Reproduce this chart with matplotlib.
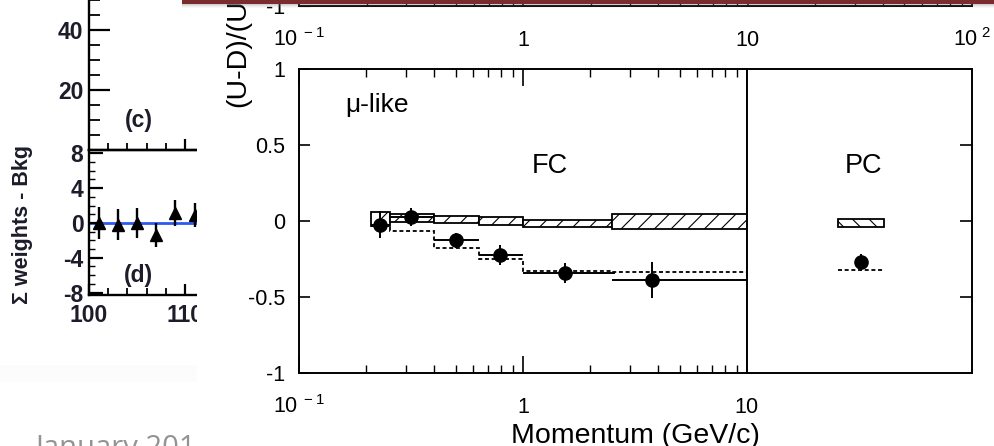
import matplotlib
matplotlib.use('Agg')
import matplotlib.pyplot as plt
from matplotlib.patches import Rectangle
from matplotlib.ticker import LogLocator, NullFormatter, MultipleLocator

plt.rcParams['font.family'] = ['Liberation Sans', 'DejaVu Sans']
plt.rcParams['mathtext.fontset'] = 'custom'
plt.rcParams['mathtext.rm'] = 'Liberation Sans'
plt.rcParams['mathtext.it'] = 'Liberation Sans:italic'
plt.rcParams['mathtext.bf'] = 'Liberation Sans:bold'
plt.rcParams['hatch.linewidth'] = 0.8

# ---------------- data: FC mu-like panel ----------------
fc_edges = [0.21, 0.255, 0.40, 0.635, 1.0, 2.5, 10.0]
mc_hi = [0.061, 0.044, 0.035, 0.028, 0.007, 0.044]
mc_lo = [-0.031, -0.009, -0.015, -0.024, -0.037, -0.055]
osc_fc = [-0.030, -0.063, -0.175, -0.252, -0.329, -0.336]
data_x = [0.23, 0.316, 0.50, 0.79, 1.54, 3.75]
data_y = [-0.025, 0.027, -0.127, -0.224, -0.340, -0.386]
data_err = [0.09, 0.06, 0.05, 0.068, 0.066, 0.118]
data_xlo = [0.21, 0.255, 0.40, 0.635, 1.0, 2.5]
data_xhi = [0.255, 0.40, 0.635, 1.0, 2.57, 10.0]

# ---------------- data: PC panel ----------------
pc_box = [0.403, 0.611]
pc_mc_hi = 0.015
pc_mc_lo = -0.037
pc_x = 0.507
pc_y = -0.272
pc_err = 0.055
pc_osc = -0.325

# ---------------- tick labels ----------------
fc_yticks = [-1, -0.5, 0, 0.5, 1]
fc_yticklabels = ['-1', '-0.5', '0', '0.5', '1']
fc_xticks = [0.1, 1, 10]
fc_xticklabels = [r'$\mathrm{10}^{\mathrm{\ -1}}$', r'$\mathrm{1}$', r'$\mathrm{10}$']
top_xticks = [0.1, 1, 10, 100]
top_xticklabels = [r'$\mathrm{10}^{\mathrm{\ -1}}$', r'$\mathrm{1}$', r'$\mathrm{10}$', r'$\mathrm{10}^{\mathrm{\ 2}}$']

# ---------------- data: left fragment (panel d) ----------------
d_x = [101, 103, 105, 107, 109, 111]
d_y = [0.0, -0.2, 0.0, -1.4, 1.1, 0.9]
d_err = [1.8, 1.8, 1.7, 1.4, 1.5, 1.4]
c_yticks = [20, 40, 60]
d_yticks = [-8, -4, 0, 4, 8]
d_xticks = [100, 110]

W, H = 995, 446
fig = plt.figure(figsize=(W / 100, H / 100), dpi=100)
fig.patch.set_facecolor('white')


def rect(l, t, r, b):
    return [l / W, 1 - b / H, (r - l) / W, (b - t) / H]


dark = '#1c1c2a'
lab_fs = 16.5

# ---------------- left fragment: panels (c) and (d) ----------------
axc = fig.add_axes(rect(89, -40, 205, 150), zorder=0)
axd = fig.add_axes(rect(89, 150, 205, 295), zorder=0)
xr = 100 + (205 - 89) / 9.6
for a in (axc, axd):
    a.set_facecolor('none')
    a.set_xlim(100, xr)
    for s in a.spines.values():
        s.set_linewidth(1.7)
    a.xaxis.set_minor_locator(MultipleLocator(2))
axc.set_ylim(0, 190 / 3)
axd.set_ylim(-8.28, 8.39)

axc.set_yticks(c_yticks)
axc.set_yticklabels([str(v) for v in c_yticks])
axc.yaxis.set_minor_locator(MultipleLocator(5))
axc.tick_params(axis='y', which='major', direction='in', length=15, width=1.6,
                labelsize=lab_fs, pad=4, labelcolor=dark)
axc.tick_params(axis='y', which='minor', direction='in', length=8, width=1.3)
axc.set_xticks([110])
axc.tick_params(axis='x', which='major', direction='in', length=8, width=1.6, labelbottom=False)
axc.tick_params(axis='x', which='minor', direction='in', length=5, width=1.3)
for lab in axc.get_yticklabels():
    lab.set_fontweight('bold')
axc.text(105.2, 9.7, '(c)', ha='center', va='center', fontsize=lab_fs, fontweight='bold', color=dark)

axd.axhline(0, color='#2a5bf0', linewidth=2.0, zorder=1)
axd.errorbar(d_x, d_y, yerr=d_err, fmt='^', color='black', ms=8.5, elinewidth=1.7,
             capsize=0, zorder=3, clip_on=False)
axd.set_yticks(d_yticks)
axd.set_yticklabels([str(v) for v in d_yticks])
axd.yaxis.set_minor_locator(MultipleLocator(1))
axd.tick_params(axis='y', which='major', direction='in', length=10, width=1.6,
                labelsize=lab_fs, pad=4, labelcolor=dark)
axd.tick_params(axis='y', which='minor', direction='in', length=4.5, width=1.0)
axd.set_xticks(d_xticks)
axd.set_xticklabels([str(v) for v in d_xticks])
axd.tick_params(axis='x', which='major', direction='in', length=8, width=1.6,
                labelsize=lab_fs, pad=6.5, labelcolor=dark)
axd.tick_params(axis='x', which='minor', direction='in', length=5, width=1.3)
for lab in axd.get_yticklabels() + axd.get_xticklabels():
    lab.set_fontweight('bold')
axd.text(105.2, -6.0, '(d)', ha='center', va='center', fontsize=lab_fs, fontweight='bold', color=dark)

fig.text(23 / W, 1 - 224 / H, 'Σ weights - Bkg', rotation=90, ha='center', va='center',
         fontsize=15.5, fontweight='bold', color=dark, zorder=0.5)

# slide elements under the overlay
fig.patches.append(Rectangle((0, 1 - 382 / H), 197 / W, 17 / H, transform=fig.transFigure,
                             facecolor='#fcfcfc', edgecolor='none', zorder=0.2))
fig.text(35 / W, 1 - 456 / H, 'January 2016', ha='left', va='baseline', fontsize=21,
         family=['Open Sans', 'DejaVu Sans'], color='#939393', zorder=0.5)

# overlay (white screenshot background)
fig.patches.append(Rectangle((197 / W, 0), (W - 197) / W, 1, transform=fig.transFigure,
                             facecolor='white', edgecolor='none', zorder=1))

tick_fs = 15.5

# ---------------- upper plot (cropped) ----------------
axt = fig.add_axes(rect(299, -100, 972, 6), zorder=2)
axt.set_xscale('log')
axt.set_xlim(0.1, 100)
axt.set_ylim(-1, 1)
for s in axt.spines.values():
    s.set_linewidth(1.4)
axt.set_xticks(top_xticks)
axt.set_xticklabels(top_xticklabels, va='baseline')
axt.xaxis.set_minor_locator(LogLocator(base=10, subs=range(2, 10)))
axt.xaxis.set_minor_formatter(NullFormatter())
axt.tick_params(axis='x', which='major', direction='in', length=10, width=1.2, labelsize=tick_fs, pad=29)
axt.tick_params(axis='x', which='minor', direction='in', length=5, width=1.0)
axt.set_yticks([-1])
axt.set_yticklabels(['-1'])
axt.tick_params(axis='y', direction='in', length=8, labelsize=tick_fs, pad=10)

# ---------------- FC panel ----------------
ax = fig.add_axes(rect(299, 69, 747, 373), zorder=2)
ax.set_xscale('log')
ax.set_xlim(0.1, 10)
ax.set_ylim(-1, 1)
for s in ax.spines.values():
    s.set_linewidth(1.4)
ax.set_yticks(fc_yticks)
ax.set_yticklabels(fc_yticklabels)
ax.tick_params(axis='y', which='both', direction='in', length=8, width=1.2,
               left=True, right=False, labelsize=tick_fs, pad=10)
ax.set_xticks(fc_xticks)
ax.set_xticklabels(fc_xticklabels, va='baseline')
ax.xaxis.set_minor_locator(LogLocator(base=10, subs=range(2, 10)))
ax.xaxis.set_minor_formatter(NullFormatter())
ax.tick_params(axis='x', which='major', direction='in', length=12, width=1.2,
               top=True, bottom=True, labelsize=tick_fs, pad=29)
ax.tick_params(axis='x', which='minor', direction='in', length=6, width=1.0,
               top=True, bottom=True)

lefts = fc_edges[:-1]
rights = fc_edges[1:]
widths = [r - l for l, r in zip(lefts, rights)]
heights = [h - l for h, l in zip(mc_hi, mc_lo)]
ax.bar(lefts, heights, width=widths, bottom=mc_lo, align='edge', facecolor='white',
       edgecolor='black', linewidth=1.3, hatch='//', zorder=2)
ax.stairs(osc_fc, fc_edges, baseline=None, color='black', linestyle=(0, (2.2, 1.5)),
          linewidth=1.3, zorder=3)
xerr = [[x - l for x, l in zip(data_x, data_xlo)], [h - x for x, h in zip(data_x, data_xhi)]]
ax.errorbar(data_x, data_y, yerr=data_err, xerr=xerr, fmt='o', color='black', ms=9.5,
            elinewidth=1.4, capsize=0, zorder=4)
ax.text(0.161, 0.765, 'μ-like', ha='left', va='center', fontsize=19)
ax.text(1.32, 0.36, 'FC', ha='center', va='center', fontsize=19.5)

# ---------------- PC panel ----------------
axp = fig.add_axes(rect(747, 69, 972, 373), zorder=2)
axp.set_xlim(0, 1)
axp.set_ylim(-1, 1)
for s in axp.spines.values():
    s.set_linewidth(1.4)
axp.set_xticks([])
axp.set_yticks([-0.5, 0, 0.5])
axp.tick_params(axis='y', direction='in', length=9, width=1.2, left=False, right=True,
                labelleft=False, labelright=False)
axp.bar([pc_box[0]], [pc_mc_hi - pc_mc_lo], width=[pc_box[1] - pc_box[0]], bottom=[pc_mc_lo],
        align='edge', facecolor='white', edgecolor='black', linewidth=1.3, hatch='\\\\', zorder=2)
axp.hlines(pc_osc, pc_box[0], pc_box[1], color='black', linestyle=(0, (2.2, 1.5)),
           linewidth=1.3, zorder=3)
axp.errorbar([pc_x], [pc_y], yerr=[pc_err], fmt='o', color='black', ms=9.5,
             elinewidth=1.4, capsize=0, zorder=4)
axp.text(0.52, 0.362, 'PC', ha='center', va='center', fontsize=19.5)

# ---------------- shared labels ----------------
fig.text(635.5 / W, 1 - 443 / H, 'Momentum (GeV/c)', ha='center', va='baseline', fontsize=20.5, zorder=5)
fig.text(238 / W, 1 - 107 / H, '(U-D)/(U+D)', rotation=90, ha='center', va='bottom',
         fontsize=20.5, zorder=5)

# slide title bar edge with shadow
for i, a in enumerate([0.35, 0.22, 0.12, 0.05]):
    fig.patches.append(Rectangle((182 / W, 1 - (5 + i) / H), (W - 182) / W, 1 / H,
                                 transform=fig.transFigure, facecolor='#777777', alpha=a,
                                 edgecolor='none', zorder=6))
fig.patches.append(Rectangle((182 / W, 1 - 4 / H), (W - 182) / W, 4 / H, transform=fig.transFigure,
                             facecolor='#7a2b2e', edgecolor='none', zorder=7))

fig.savefig('out.png', dpi=100)
